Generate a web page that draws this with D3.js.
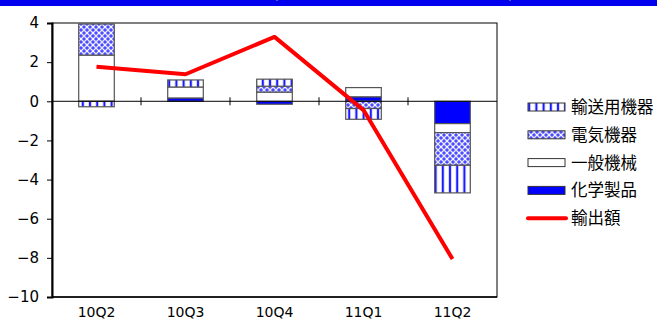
<!DOCTYPE html>
<html><head><meta charset="utf-8">
<script src="https://cdn.jsdelivr.net/npm/d3@7/dist/d3.min.js"></script>
<style>body{margin:0;background:#fff}svg{display:block}</style>
</head><body>
<svg id="c" width="657" height="323"></svg>
<script>
const categories = ["10Q2","10Q3","10Q4","11Q1","11Q2"];
const chemical   = [0.0, 0.17, -0.15, 0.23, -1.14];   // 化学製品
const general    = [2.36, 0.56, 0.47, 0.47, -0.46];   // 一般機械
const electrical = [1.59, 0.0, 0.30, -0.37, -1.67];   // 電気機器
const transport  = [-0.28, 0.36, 0.36, -0.55, -1.41]; // 輸送用機器
const exportsTot = [1.77, 1.38, 3.29, -0.45, -8.06];  // 輸出額
const yTicks = [4,2,0,-2,-4,-6,-8,-10];
const seriesNames = {chemical:"化学製品", general:"一般機械", electrical:"電気機器", transport:"輸送用機器", line:"輸出額"};

const svg = d3.select("#c");
const W = 657, H = 323;
const m = {l:52, r:160, t:23, b:26};
const pw = W - m.l - m.r, ph = H - m.t - m.b;
const font = "'Noto Sans CJK JP', 'DejaVu Sans', sans-serif";
const numFont = "'DejaVu Sans', sans-serif";

// top blue band
svg.append("rect").attr("x",0).attr("y",0).attr("width",W).attr("height",6).attr("fill","#0000ee");
svg.append("line").attr("x1",277).attr("x2",277).attr("y1",0).attr("y2",1).attr("stroke","#aaa");
svg.append("line").attr("x1",510).attr("x2",510).attr("y1",0).attr("y2",1).attr("stroke","#aaa");

const defs = svg.append("defs");
const pStripe = defs.append("pattern").attr("id","stripe").attr("patternUnits","userSpaceOnUse")
  .attr("width",7.2).attr("height",10);
pStripe.append("rect").attr("width",7.2).attr("height",10).attr("fill","#fff");
pStripe.append("rect").attr("x",2.5).attr("width",2.2).attr("height",10).attr("fill","#1a1aff");

const pCross = defs.append("pattern").attr("id","cross").attr("patternUnits","userSpaceOnUse")
  .attr("width",6).attr("height",6);
pCross.append("rect").attr("width",6).attr("height",6).attr("fill","#4d4dff");
pCross.append("path").attr("d","M0,0L6,6M6,0L0,6").attr("stroke","#e6e6ff").attr("stroke-width",1.3);
pCross.append("circle").attr("cx",3).attr("cy",3).attr("r",0.9).attr("fill","#fff");

const x = d3.scaleBand().domain(categories).range([m.l, m.l+pw]).paddingInner(0.6).paddingOuter(0.3);
const y = d3.scaleLinear().domain([-10,4]).range([m.t+ph, m.t]);

// plot frame
svg.append("rect").attr("x",m.l).attr("y",m.t).attr("width",pw).attr("height",ph)
  .attr("fill","none").attr("stroke","#000").attr("stroke-width",1);

const rows = categories.map((c,i)=>({cat:c, chemical:chemical[i], general:general[i], electrical:electrical[i], transport:transport[i]}));
const keys = ["chemical","general","electrical","transport"];
const fills = {chemical:"#0000ff", general:"#fff", electrical:"url(#cross)", transport:"url(#stripe)"};
const stack = d3.stack().keys(keys).offset(d3.stackOffsetDiverging)(rows);

stack.forEach(s=>{
  svg.append("g").selectAll("rect").data(s.filter(d=>Math.abs(d[1]-d[0])>0.001)).join("rect")
    .attr("x",d=>x(d.data.cat)).attr("width",x.bandwidth())
    .attr("y",d=>y(Math.max(d[0],d[1]))).attr("height",d=>Math.abs(y(d[0])-y(d[1])))
    .attr("fill",fills[s.key]).attr("stroke","#555").attr("stroke-width",1.2);
});

// zero line with category ticks
svg.append("line").attr("x1",m.l).attr("x2",m.l+pw).attr("y1",y(0)).attr("y2",y(0)).attr("stroke","#000");
const step = x.step();
categories.slice(1).forEach((c)=>{
  const bx = x(c) - (step - x.bandwidth())/2;
  svg.append("line").attr("x1",bx).attr("x2",bx).attr("y1",y(0)-4).attr("y2",y(0)+4).attr("stroke","#000");
});

// y axis
const yAxis = svg.append("g").attr("transform",`translate(${m.l},0)`)
  .call(d3.axisLeft(y).tickValues(yTicks).tickSize(5).tickPadding(8).tickFormat(d3.format("d")));
yAxis.select(".domain").attr("stroke","#000").attr("stroke-width",2);
yAxis.selectAll(".tick line").attr("stroke","#000");
yAxis.selectAll("text").attr("font-family",numFont).attr("font-size",15).attr("fill","#000");

// x labels
svg.append("g").selectAll("text").data(categories).join("text")
  .attr("x",d=>x(d)+x.bandwidth()/2).attr("y",H-6).attr("text-anchor","middle")
  .attr("font-family",numFont).attr("font-size",14).attr("fill","#000").text(d=>d);

// bottom axis line thicker
svg.append("line").attr("x1",m.l).attr("x2",m.l+pw).attr("y1",m.t+ph).attr("y2",m.t+ph).attr("stroke","#000").attr("stroke-width",1.5);

// line
const line = d3.line().x((d,i)=>x(categories[i])+x.bandwidth()/2).y(d=>y(d));
svg.append("path").datum(exportsTot).attr("d",line).attr("fill","none")
  .attr("stroke","#ff0000").attr("stroke-width",4).attr("stroke-linejoin","round");

// legend
const legendItems = ["transport","electrical","general","chemical","line"];
const lg = svg.append("g");
legendItems.forEach((k,i)=>{
  const cy = 107 + i*27.8;
  if(k==="line"){
    lg.append("line").attr("x1",528).attr("x2",566).attr("y1",cy).attr("y2",cy)
      .attr("stroke","#ff0000").attr("stroke-width",4).attr("stroke-linecap","round");
  } else {
    lg.append("rect").attr("x",528).attr("y",cy-4).attr("width",37).attr("height",8)
      .attr("fill",fills[k]).attr("stroke","#333").attr("stroke-width",1);
  }
  lg.append("text").attr("x",571).attr("y",cy).attr("dy","0.36em")
    .attr("font-family",font).attr("font-size",16.5).attr("fill","#000").text(seriesNames[k]);
});
</script>
</body></html>
